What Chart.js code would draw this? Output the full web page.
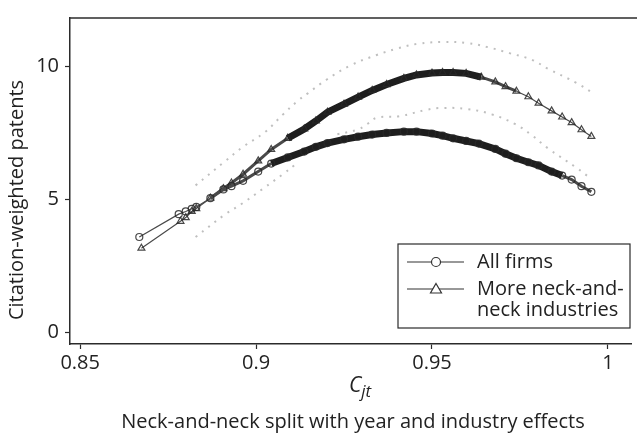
<!DOCTYPE html>
<html><head><meta charset="utf-8">
<script src="https://cdn.jsdelivr.net/npm/chart.js@4.4.0/dist/chart.umd.min.js"></script>
<style>html,body{margin:0;padding:0;background:#fff;}#wrap{width:637px;height:434px;}</style>
</head><body><div id="wrap"><canvas id="c" width="637" height="434"></canvas></div>
<script>
// ---- data ----
const allFirmsX = [0.8668,0.8780,0.8800,0.8817,0.8830,0.8870,0.8907,0.8930,0.8963,0.9006,0.9043,0.9090,0.9137,0.9170,0.9203,0.9250,0.9290,0.9330,0.9371,0.9420,0.9456,0.9500,0.9530,0.9560,0.9597,0.9633,0.9680,0.9709,0.9740,0.9774,0.9803,0.9840,0.9870,0.9897,0.9925,0.9953];
const allFirmsY = [3.59,4.45,4.55,4.65,4.72,5.05,5.38,5.50,5.70,6.05,6.35,6.58,6.80,6.98,7.12,7.26,7.36,7.44,7.50,7.55,7.55,7.48,7.40,7.30,7.20,7.10,6.90,6.72,6.55,6.40,6.28,6.05,5.90,5.75,5.50,5.29];
const neckX = [0.8674,0.8785,0.8800,0.8817,0.8830,0.8870,0.8907,0.8930,0.8963,0.9006,0.9043,0.9090,0.9137,0.9170,0.9203,0.9250,0.9290,0.9330,0.9371,0.9420,0.9456,0.9500,0.9530,0.9560,0.9597,0.9640,0.9680,0.9709,0.9740,0.9774,0.9803,0.9840,0.9870,0.9897,0.9925,0.9953];
const neckY = [3.17,4.18,4.32,4.55,4.66,5.05,5.41,5.62,5.95,6.45,6.88,7.30,7.65,7.95,8.28,8.58,8.85,9.10,9.32,9.55,9.68,9.75,9.77,9.77,9.74,9.60,9.42,9.24,9.07,8.86,8.62,8.33,8.10,7.89,7.62,7.37];
const upperBandX = [0.8828,0.8912,0.8963,0.9025,0.9076,0.9118,0.9146,0.9200,0.9270,0.9343,0.9400,0.9460,0.9531,0.9600,0.9660,0.9720,0.9784,0.9830,0.9911,0.9953];
const upperBandY = [5.53,6.44,6.98,7.53,8.19,8.70,8.98,9.50,10.05,10.43,10.67,10.85,10.92,10.88,10.72,10.50,10.25,9.91,9.38,9.04];
const lowerBandLeftX = [0.8828,0.8912,0.8963,0.9020,0.9076,0.9110];
const lowerBandLeftY = [3.59,4.44,4.87,5.41,5.95,6.30];
const lowerBandRightX = [0.9231,0.9290,0.9315,0.9343,0.9408,0.9484,0.9530,0.9600,0.9670,0.9737,0.9784,0.9830,0.9911,0.9953];
const lowerBandRightY = [7.45,7.63,7.83,8.07,8.13,8.37,8.44,8.40,8.20,7.83,7.41,6.92,6.19,5.77];
const xTicks = [0.85, 0.9, 0.95, 1];
const yTicks = [0, 5, 10];
const seriesLabels = [['All firms'], ['More neck-and-', 'neck industries']];
const yTitle = 'Citation-weighted patents';
const xTitleMain = 'C';
const xTitleSub = 'jt';
const subtitle = 'Neck-and-neck split with year and industry effects';

const FONT = '"Open Sans", "Liberation Sans", sans-serif';
const INK = '#2b2b2b';
const pts = (xs, ys) => xs.map((x, i) => ({x, y: ys[i]}));

function segW(lo, hi, midLo, midHi) {
  return ctx => {
    const m = (ctx.p0.parsed.x + ctx.p1.parsed.x) / 2;
    if (m > lo && m < hi) return 7;
    if (m > midLo && m < midHi) return 3;
    return 1.2;
  };
}
function segC(lo, hi) {
  return ctx => {
    const m = (ctx.p0.parsed.x + ctx.p1.parsed.x) / 2;
    return (m > lo && m < hi) ? '#1e1e1e' : '#4a4a4a';
  };
}

const decor = {
  id: 'decor',
  afterDraw(chart) {
    const c = chart.ctx, a = chart.chartArea;
    c.save();
    c.strokeStyle = INK; c.lineWidth = 1.5;
    c.beginPath(); c.moveTo(a.left, a.top); c.lineTo(chart.width, a.top); c.stroke();
    c.fillStyle = '#222';
    c.font = '20px ' + FONT;
    c.textAlign = 'center'; c.textBaseline = 'middle';
    c.save(); c.translate(17, 200); c.rotate(-Math.PI / 2); c.fillText(yTitle, 0, 0); c.restore();
    c.textAlign = 'left'; c.textBaseline = 'alphabetic';
    c.font = 'italic 21px ' + FONT;
    const cw = c.measureText(xTitleMain).width;
    c.font = 'italic 17px ' + FONT;
    const sw = c.measureText(xTitleSub).width;
    const x0 = 360 - (cw + sw) / 2;
    c.font = 'italic 21px ' + FONT;
    c.fillText(xTitleMain, x0, 392);
    c.font = 'italic 17px ' + FONT;
    c.fillText(xTitleSub, x0 + cw, 397);
    c.font = '20px ' + FONT;
    c.textAlign = 'center'; c.textBaseline = 'middle';
    c.fillText(subtitle, 353, 422);
    const bx = 398, by = 244, bw = 232, bh = 84;
    c.fillStyle = '#fff'; c.fillRect(bx, by, bw, bh);
    c.strokeStyle = INK; c.lineWidth = 1.2; c.strokeRect(bx, by, bw, bh);
    const rows = [262, 289];
    c.font = '20px ' + FONT; c.textAlign = 'left'; c.textBaseline = 'middle';
    seriesLabels.forEach((lab, i) => {
      const y = rows[i];
      c.strokeStyle = '#333'; c.lineWidth = 1.2;
      c.beginPath(); c.moveTo(407, y); c.lineTo(464, y); c.stroke();
      c.fillStyle = '#fff';
      c.beginPath();
      if (i === 0) { c.arc(436, y, 4.5, 0, Math.PI * 2); }
      else { c.moveTo(436, y - 5.5); c.lineTo(441.5, y + 4); c.lineTo(430.5, y + 4); c.closePath(); }
      c.fill(); c.stroke();
      c.fillStyle = '#222';
      lab.forEach((t, j) => c.fillText(t, 477, y + j * 21));
    });
    c.restore();
  }
};

const band = (xs, ys) => ({ data: pts(xs, ys), showLine: true, pointRadius: 0,
  borderColor: 'rgba(0,0,0,0.25)', borderWidth: 2, borderDash: [2, 6], tension: 0.4 });

new Chart(document.getElementById('c'), {
  type: 'scatter',
  data: {
    datasets: [
      { label: seriesLabels[0].join(' '), data: pts(allFirmsX, allFirmsY), showLine: true,
        pointStyle: 'circle', pointRadius: 3.5, pointBorderWidth: 1.2,
        pointBorderColor: 'rgba(40,40,40,0.85)', pointBackgroundColor: 'rgba(0,0,0,0)',
        borderColor: '#4a4a4a', borderWidth: 1.2, tension: 0,
        segment: { borderWidth: segW(0.904, 0.987, 0.887, 0.997), borderColor: segC(0.904, 0.987) } },
      { label: seriesLabels[1].join(' '), data: pts(neckX, neckY), showLine: true,
        pointStyle: 'triangle', pointRadius: 4, pointBorderWidth: 1.2,
        pointBorderColor: 'rgba(40,40,40,0.85)', pointBackgroundColor: 'rgba(0,0,0,0)',
        borderColor: '#4a4a4a', borderWidth: 1.2, tension: 0,
        segment: { borderWidth: segW(0.907, 0.966, 0.887, 0.975), borderColor: segC(0.907, 0.966) } },
      band(upperBandX, upperBandY),
      band(lowerBandLeftX, lowerBandLeftY),
      band(lowerBandRightX, lowerBandRightY)
    ]
  },
  options: {
    responsive: false, animation: false,
    layout: { padding: { top: 7, right: 0, left: 0, bottom: 0 } },
    plugins: { legend: { display: false }, tooltip: { enabled: false } },
    scales: {
      x: {
        type: 'linear', min: 0.8471, max: 1.0068,
        afterBuildTicks: s => { s.ticks = xTicks.map(v => ({value: v})); },
        afterFit: s => { s.height = 90; },
        ticks: { callback: v => String(v), color: '#222', font: { family: FONT, size: 20 }, padding: 2, maxRotation: 0 },
        grid: { drawOnChartArea: false, drawTicks: true, tickLength: 5, tickColor: INK, tickWidth: 1.2 },
        border: { display: true, color: INK, width: 1.5 }
      },
      y: {
        type: 'linear', min: -0.43, max: 11.82,
        afterBuildTicks: s => { s.ticks = yTicks.map(v => ({value: v})); },
        afterFit: s => { s.width = 70; },
        ticks: { callback: v => String(v), color: '#222', font: { family: FONT, size: 20 }, padding: 6 },
        grid: { drawOnChartArea: false, drawTicks: true, tickLength: 5, tickColor: INK, tickWidth: 1.2 },
        border: { display: true, color: INK, width: 1.5 }
      }
    }
  },
  plugins: [decor]
});
</script></body></html>
